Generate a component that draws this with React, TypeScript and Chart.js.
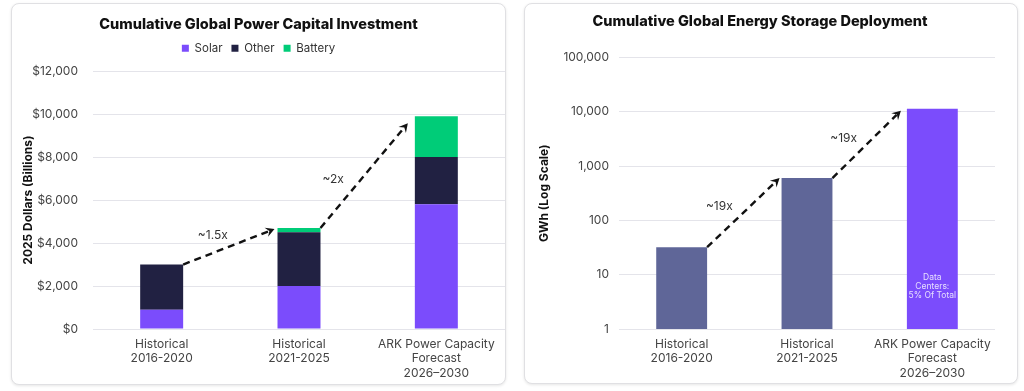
import React, { useEffect, useRef } from 'react';
import { Chart, registerables } from 'chart.js';

Chart.register(...registerables);

// ---------- data ----------
const categories = [
  ['Historical', '2016-2020'],
  ['Historical', '2021-2025'],
  ['ARK Power Capacity', 'Forecast', '2026–2030'],
];
const solarValues = [900, 2000, 5800];
const otherValues = [2100, 2500, 2200];
const batteryValues = [0, 200, 1900];
const storageValues = [32, 600, 11400];
const dollarTickStep = 2000;
const dollarMax = 12000;
const logTicks = [1, 10, 100, 1000, 10000, 100000];
const leftArrowLabels = ['~1.5x', '~2x'];
const rightArrowLabels = ['~19x', '~19x'];
const barNote = ['Data', 'Centers:', '5% Of Total'];

// ---------- styles ----------
const FONT = 'Inter';
const SOLAR = '#7b4cfc';
const OTHER = '#212142';
const BATTERY = '#00cc78';
const STORAGE_HIST = '#5f6698';
const GRID = '#e4e4ea';
const TICK = '#444444';

const growthArrows = {
  id: 'growthArrows',
  afterDatasetsDraw(chart: any, _args: any, opts: any) {
    const items = (opts && opts.items) || [];
    const ctx = chart.ctx;
    const yScale = chart.scales.y;
    const datasets = chart.data.datasets;
    const meta = chart.getDatasetMeta(0);
    const total = (i: number) =>
      datasets.reduce((s: number, d: any) => s + (Number(d.data[i]) || 0), 0);
    items.forEach((it: any) => {
      const a = meta.data[it.from];
      const b = meta.data[it.to];
      if (!a || !b) return;
      const x0 = a.x + a.width / 2 + (it.sx || 0);
      const y0 = yScale.getPixelForValue(total(it.from)) + (it.sy || 0);
      const x1 = b.x - b.width / 2 + (it.ex || 0);
      const y1 = yScale.getPixelForValue(total(it.to)) + (it.ey || 0);
      const ang = Math.atan2(y1 - y0, x1 - x0);
      const head = 10;
      const bx = x1 - Math.cos(ang) * head * 0.6;
      const by = y1 - Math.sin(ang) * head * 0.6;
      ctx.save();
      ctx.strokeStyle = '#111';
      ctx.lineWidth = 2.4;
      ctx.setLineDash([7, 5]);
      ctx.beginPath();
      ctx.moveTo(x0, y0);
      ctx.lineTo(bx, by);
      ctx.stroke();
      ctx.setLineDash([]);
      ctx.fillStyle = '#111';
      ctx.beginPath();
      ctx.moveTo(x1, y1);
      ctx.lineTo(x1 - head * Math.cos(ang - 0.5), y1 - head * Math.sin(ang - 0.5));
      ctx.lineTo(x1 - head * 0.55 * Math.cos(ang), y1 - head * 0.55 * Math.sin(ang));
      ctx.lineTo(x1 - head * Math.cos(ang + 0.5), y1 - head * Math.sin(ang + 0.5));
      ctx.closePath();
      ctx.fill();
      ctx.font = `12px ${FONT}`;
      ctx.fillStyle = '#333';
      ctx.textAlign = 'center';
      ctx.textBaseline = 'middle';
      ctx.fillText(it.label, (x0 + x1) / 2 + (it.lx || 0), (y0 + y1) / 2 + (it.ly || 0));
      ctx.restore();
    });
  },
};

const barNotePlugin = {
  id: 'barNote',
  afterDatasetsDraw(chart: any, _args: any, opts: any) {
    if (!opts || !opts.lines) return;
    const meta = chart.getDatasetMeta(0);
    const bar = meta.data[opts.index];
    if (!bar) return;
    const ctx = chart.ctx;
    ctx.save();
    ctx.font = `8.5px ${FONT}`;
    ctx.fillStyle = '#e6defe';
    ctx.textAlign = 'center';
    ctx.textBaseline = 'middle';
    const lh = 9;
    const cy = bar.base - opts.offset;
    opts.lines.forEach((t: string, i: number) => {
      ctx.fillText(t, bar.x, cy + (i - (opts.lines.length - 1) / 2) * lh);
    });
    ctx.restore();
  },
};

function LeftChart() {
  const ref = useRef<HTMLCanvasElement>(null);
  useEffect(() => {
    if (!ref.current) return;
    const chart = new Chart(ref.current, {
      type: 'bar',
      data: {
        labels: categories,
        datasets: [
          { label: 'Solar', data: solarValues, backgroundColor: SOLAR, borderWidth: 0 },
          { label: 'Other', data: otherValues, backgroundColor: OTHER, borderWidth: 0 },
          { label: 'Battery', data: batteryValues, backgroundColor: BATTERY, borderWidth: 0 },
        ],
      },
      plugins: [growthArrows],
      options: {
        responsive: false,
        animation: false,
        events: [],
        layout: { padding: 0 },
        datasets: { bar: { categoryPercentage: 1, barPercentage: 0.313 } },
        plugins: {
          title: {
            display: true,
            text: 'Cumulative Global Power Capital Investment',
            font: { family: FONT, size: 14.5, weight: '800' },
            color: '#111',
            padding: { top: 12, bottom: 0 },
          },
          subtitle: {
            display: true,
            text: '',
            weight: 500,
            font: { size: 1 },
            padding: { top: 6, bottom: 0 },
          },
          legend: {
            display: true,
            position: 'top',
            labels: {
              boxWidth: 7,
              boxHeight: 7,
              padding: 9,
              color: '#333',
              font: { family: FONT, size: 11.5 },
            },
          },
          tooltip: { enabled: false },
          growthArrows: {
            items: [
              { from: 0, to: 1, ex: -3, ey: 1, lx: -16, ly: -11, label: leftArrowLabels[0] },
              { from: 1, to: 2, ex: -7, ey: 7, lx: -31, ly: 4, label: leftArrowLabels[1] },
            ],
          },
        } as any,
        scales: {
          x: {
            stacked: true,
            grid: { display: false, drawTicks: false },
            border: { display: false },
            ticks: {
              color: TICK,
              font: { family: FONT, size: 12 },
              padding: 8,
              autoSkip: false,
              maxRotation: 0,
            },
            afterFit: (s: any) => { s.height = 55; },
          },
          y: {
            stacked: true,
            min: 0,
            max: dollarMax,
            grid: { color: GRID, drawTicks: false },
            border: { display: false },
            ticks: {
              stepSize: dollarTickStep,
              color: TICK,
              padding: 15,
              font: { family: FONT, size: 12 },
              callback: (v: any) => '$' + Number(v).toLocaleString('en-US'),
            },
            title: {
              display: true,
              text: '2025 Dollars (Billions)',
              color: '#111',
              font: { family: FONT, size: 12, weight: 'bold' },
              padding: { top: 9, bottom: 0 },
            },
            afterFit: (s: any) => { s.width = 81; },
          },
        },
      } as any,
    });
    return () => chart.destroy();
  }, []);
  return <canvas ref={ref} width={493} height={380} style={{ display: 'block' }} />;
}

function RightChart() {
  const ref = useRef<HTMLCanvasElement>(null);
  useEffect(() => {
    if (!ref.current) return;
    const chart = new Chart(ref.current, {
      type: 'bar',
      data: {
        labels: categories,
        datasets: [
          {
            label: 'GWh',
            data: storageValues,
            backgroundColor: [STORAGE_HIST, STORAGE_HIST, SOLAR],
            borderWidth: 0,
          },
        ],
      },
      plugins: [growthArrows, barNotePlugin],
      options: {
        responsive: false,
        animation: false,
        events: [],
        layout: { padding: { left: 0, right: 22, top: 0, bottom: 0 } },
        datasets: { bar: { categoryPercentage: 1, barPercentage: 0.406 } },
        plugins: {
          title: {
            display: true,
            text: 'Cumulative Global Energy Storage Deployment',
            font: { family: FONT, size: 14.5, weight: '800' },
            color: '#111',
            padding: { top: 9, bottom: 27 },
          },
          legend: { display: false },
          tooltip: { enabled: false },
          growthArrows: {
            items: [
              { from: 0, to: 1, ex: -2, ey: 0, lx: -24, ly: -6, label: rightArrowLabels[0] },
              { from: 1, to: 2, ex: -6, ey: 2, lx: -23, ly: -6, label: rightArrowLabels[1] },
            ],
          },
          barNote: { index: 2, offset: 43, lines: barNote },
        } as any,
        scales: {
          x: {
            grid: { display: false, drawTicks: false },
            border: { display: false },
            ticks: {
              color: TICK,
              font: { family: FONT, size: 12 },
              padding: 8,
              autoSkip: false,
              maxRotation: 0,
            },
            afterFit: (s: any) => { s.height = 54; },
          },
          y: {
            type: 'logarithmic',
            min: logTicks[0],
            max: logTicks[logTicks.length - 1],
            grid: { color: GRID, drawTicks: false },
            border: { display: false },
            afterBuildTicks: (s: any) => {
              s.ticks = logTicks.map((v) => ({ value: v }));
            },
            ticks: {
              color: TICK,
              padding: 10,
              autoSkip: false,
              font: { family: FONT, size: 12 },
              callback: (v: any) => Number(v).toLocaleString('en-US'),
            },
            title: {
              display: true,
              text: 'GWh (Log Scale)',
              color: '#111',
              font: { family: FONT, size: 12, weight: 'bold' },
              padding: { top: 12, bottom: 0 },
            },
            afterFit: (s: any) => { s.width = 94; },
          },
        },
      } as any,
    });
    return () => chart.destroy();
  }, []);
  return <canvas ref={ref} width={492} height={379} style={{ display: 'block' }} />;
}

const panelStyle: React.CSSProperties = {
  position: 'absolute',
  boxSizing: 'border-box',
  border: '1px solid #e0e0e3',
  borderRadius: 8,
  boxShadow: '0 1px 3px rgba(0,0,0,0.10)',
  background: '#fff',
  overflow: 'hidden',
};

export default function App() {
  return (
    <div
      style={{
        position: 'fixed',
        left: 0,
        top: 0,
        width: 1024,
        height: 391,
        background: '#fff',
        overflow: 'hidden',
      }}
    >
      <div style={{ ...panelStyle, left: 11, top: 3, width: 495, height: 382 }}>
        <LeftChart />
      </div>
      <div style={{ ...panelStyle, left: 524, top: 3, width: 494, height: 381 }}>
        <RightChart />
      </div>
    </div>
  );
}
